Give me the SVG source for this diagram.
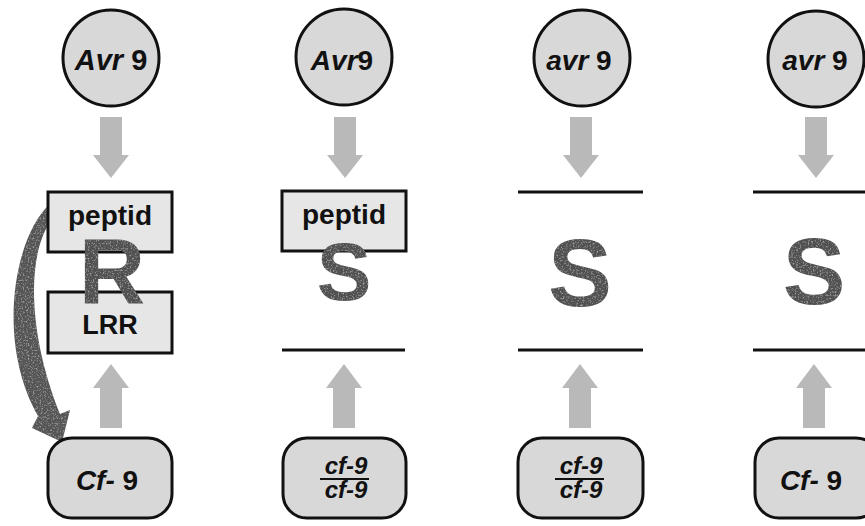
<svg xmlns="http://www.w3.org/2000/svg" width="865" height="526" viewBox="0 0 865 526">
  <style>
    .bg { fill: #ffffff; }
    .gene { fill: #d8d8d8; stroke: #111; stroke-width: 3; }
    .prot { fill: #e6e6e6; stroke: #111; stroke-width: 3; }
    .mem { stroke: #111; stroke-width: 3; fill: none; }
    .flow { fill: #b9b9b9; }
    .big { fill: #515151; font-family: "Liberation Sans", Arial, sans-serif; font-weight: bold; text-anchor: middle; filter: url(#speck); }
    .lbl { fill: #111; font-family: "Liberation Sans", Arial, sans-serif; font-weight: bold; text-anchor: middle; }
    .it { font-style: italic; }
  </style>
  <defs>
    <filter id="speck" x="-5%" y="-5%" width="110%" height="110%">
      <feTurbulence type="fractalNoise" baseFrequency="0.6" numOctaves="2" seed="4" result="n"/>
      <feColorMatrix in="n" type="matrix" values="0 0 0 0 0.5  0 0 0 0 0.5  0 0 0 0 0.5  0 0 0 -2.2 1.05" result="spots"/>
      <feComposite in="spots" in2="SourceGraphic" operator="in" result="s2"/>
      <feMerge><feMergeNode in="SourceGraphic"/><feMergeNode in="s2"/></feMerge>
    </filter>
    <path id="down" d="M -11 117 H 11 V 155 H 18 L 0 178 L -18 155 H -11 Z"/>
    <path id="up" d="M -11 428 H 11 V 388 H 18 L 0 364 L -18 388 H -11 Z"/>
  </defs>
  <rect class="bg" x="0" y="0" width="865" height="526"/>

  <g id="connectors">
    <use href="#down" class="flow" x="111"/>
    <use href="#up" class="flow" x="111"/>
    <use href="#down" class="flow" x="345"/>
    <use href="#up" class="flow" x="344"/>
    <use href="#down" class="flow" x="581"/>
    <use href="#up" class="flow" x="580"/>
    <use href="#down" class="flow" x="816"/>
    <use href="#up" class="flow" x="814"/>
    <path id="feedback" fill="#555555" filter="url(#speck)" d="M 50 204 C 15 235, -5 340, 38 416 L 32 428 L 62 442 L 70 410 L 60 414 C 30 340, 25 260, 50 222 Z"/>
  </g>

  <!-- column 1 -->
  <g id="avr9-1">
    <circle class="gene" cx="111" cy="58" r="48"/>
    <text class="lbl" x="111" y="70" font-size="29"><tspan class="it">Avr</tspan> 9</text>
  </g>
  <g id="peptid-1">
    <rect class="prot" x="48" y="192" width="124" height="60"/>
    <text class="lbl" x="110" y="225" font-size="28">peptid</text>
  </g>
  <g id="lrr-1">
    <rect class="prot" x="48" y="292" width="124" height="61"/>
    <text class="lbl" x="110" y="334" font-size="27">LRR</text>
  </g>
  <g id="R-1">
    <text class="big" x="112" y="303" font-size="92">R</text>
  </g>
  <g id="cf9-1">
    <rect class="gene" x="48" y="438" width="124" height="80" rx="24"/>
    <text class="lbl" x="107" y="490" font-size="28"><tspan class="it">Cf-</tspan> 9</text>
  </g>

  <!-- column 2 -->
  <g id="avr9-2">
    <circle class="gene" cx="344" cy="57" r="48"/>
    <text class="lbl" x="342" y="70" font-size="28"><tspan class="it">Avr</tspan>9</text>
  </g>
  <g id="peptid-2">
    <rect class="prot" x="282" y="191" width="124" height="60"/>
    <text class="lbl" x="344" y="224" font-size="28">peptid</text>
  </g>
  <g id="S-2">
    <text class="big" x="344" y="300" font-size="82">S</text>
  </g>
  <g id="mem-2">
    <line class="mem" x1="282" y1="350" x2="405" y2="350"/>
  </g>
  <g id="cf9-2">
    <rect class="gene" x="283" y="438" width="123" height="80" rx="24"/>
    <text class="lbl it" x="346" y="474" font-size="24">cf-9</text>
    <line x1="320" y1="479" x2="369" y2="479" stroke="#111" stroke-width="2"/>
    <text class="lbl it" x="346" y="498" font-size="24">cf-9</text>
  </g>

  <!-- column 3 -->
  <g id="avr9-3">
    <circle class="gene" cx="582" cy="58" r="48"/>
    <text class="lbl" x="579" y="70" font-size="28"><tspan class="it">avr</tspan> 9</text>
  </g>
  <g id="mem-3">
    <line class="mem" x1="518" y1="192" x2="643" y2="192"/>
    <line class="mem" x1="518" y1="350" x2="643" y2="350"/>
  </g>
  <g id="S-3">
    <text class="big" x="580" y="306" font-size="96">S</text>
  </g>
  <g id="cf9-3">
    <rect class="gene" x="518" y="438" width="125" height="80" rx="24"/>
    <text class="lbl it" x="581" y="474" font-size="24">cf-9</text>
    <line x1="555" y1="479" x2="604" y2="479" stroke="#111" stroke-width="2"/>
    <text class="lbl it" x="581" y="498" font-size="24">cf-9</text>
  </g>

  <!-- column 4 -->
  <g id="avr9-4">
    <circle class="gene" cx="816" cy="59" r="48"/>
    <text class="lbl" x="815" y="70" font-size="28"><tspan class="it">avr</tspan> 9</text>
  </g>
  <g id="mem-4">
    <line class="mem" x1="753" y1="192" x2="865" y2="192"/>
    <line class="mem" x1="753" y1="350" x2="865" y2="350"/>
  </g>
  <g id="S-4">
    <text class="big" x="814" y="304" font-size="94">S</text>
  </g>
  <g id="cf9-4">
    <rect class="gene" x="755" y="438" width="125" height="80" rx="24"/>
    <text class="lbl" x="811" y="490" font-size="28"><tspan class="it">Cf-</tspan> 9</text>
  </g>
</svg>
